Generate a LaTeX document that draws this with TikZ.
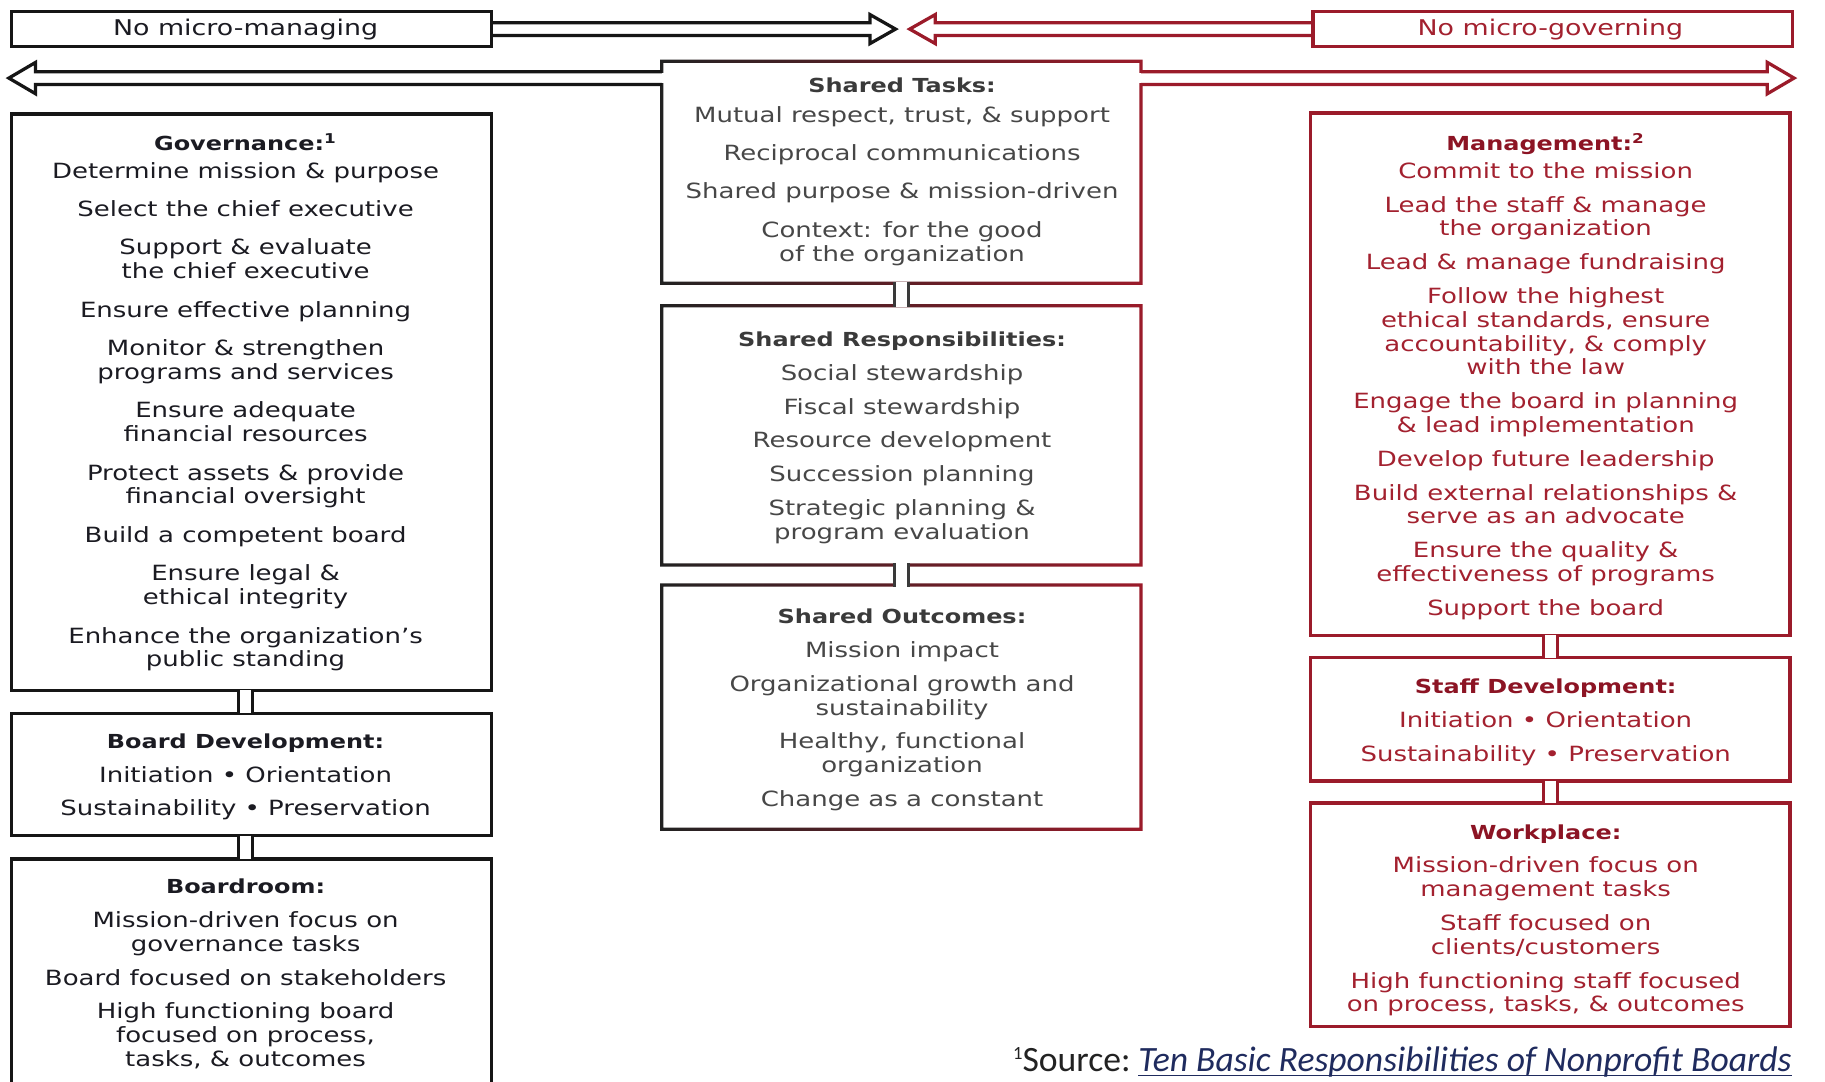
\documentclass[tikz,border=0pt]{standalone}
\usepackage{fontspec}
\setmainfont{DejaVu Sans}[FakeStretch=1.24]
\newfontfamily\notefont{Carlito}
\usetikzlibrary{fit,calc}
\definecolor{lc}{HTML}{1B1B22}
\definecolor{lb}{HTML}{161616}
\definecolor{cc}{HTML}{474747}
\definecolor{ct}{HTML}{3A3A3A}
\definecolor{rc}{HTML}{A3212F}
\definecolor{rt}{HTML}{8C1424}
\definecolor{rb}{HTML}{9B1B2A}
\definecolor{cl}{HTML}{222222}
\definecolor{linkc}{HTML}{1F2B5E}
\newcommand\bodyfont{\fontsize{9}{10.25}\selectfont}
\newcommand\notesize{\notefont\fontsize{15.3}{17}\selectfont}
\newcommand\ttl[1]{{\rule{0pt}{7pt}\fontsize{8.3}{10.25}\selectfont\bfseries #1}}
\newcommand\mkbox[4]{%
  \path (#3) coordinate (#1-a) (#4) coordinate (#1-b);
  \node[#2, fit=(#1-a)(#1-b), inner sep=0pt] (#1) {};}
\newcommand\gradframe[1]{%
  \shade[left color=cl, right color=rb, even odd rule]
   ([shift={(-0.7pt,0.7pt)}]#1.north west) rectangle ([shift={(0.7pt,-0.7pt)}]#1.south east)
   ([shift={(0.7pt,-0.7pt)}]#1.north west) rectangle ([shift={(-0.7pt,0.7pt)}]#1.south east);}
\tikzset{
  lbox/.style={draw=lb, line width=1.4pt},
  rbox/.style={draw=rb, line width=1.4pt},
  cbox/.style={},
  conn/.style={double=white, double distance=4.6pt, line width=1.4pt,
    shorten <=-0.7pt, shorten >=-0.7pt},
  arrowline/.style={line width=1.4pt, line join=miter},
  ltext/.style={align=center, font=\bodyfont, text=lc, anchor=north, inner sep=0pt},
  ctext/.style={align=center, font=\bodyfont, text=cc, anchor=north, inner sep=0pt},
  rtext/.style={align=center, font=\bodyfont, text=rc, anchor=north, inner sep=0pt},
  toplabel/.style={font=\fontsize{9.3}{10}\selectfont, anchor=base, inner sep=0pt}
}
\begin{document}
\begin{tikzpicture}[x=0.5pt,y=-0.5pt]
\useasboundingbox (0,0) rectangle (1568,929);
\clip (0,0) rectangle (1568,929);
\fill[white] (0,0) rectangle (1568,929);

% boxes
\mkbox{nmm}{lbox}{10,10}{422,40}
\mkbox{nmg}{rbox}{1128,10}{1540,40}
\mkbox{gov}{lbox}{10,98}{422,593}
\mkbox{bdev}{lbox}{10,613}{422,718}
\mkbox{brm}{lbox}{10,738}{422,960}
\mkbox{st}{cbox}{569,53}{980,243}
\mkbox{sr}{cbox}{569,263}{980,485}
\mkbox{so}{cbox}{569,503}{980,712}
\mkbox{mgt}{rbox}{1126,97}{1538,546}
\mkbox{sdev}{rbox}{1126,565}{1538,671}
\mkbox{wp}{rbox}{1126,690}{1538,882}
\gradframe{st}
\gradframe{sr}
\gradframe{so}

% connectors
\draw[conn, draw=lb] ([xshift=-2.5pt]gov.south) -- ([xshift=-2.5pt]bdev.north);
\draw[conn, draw=lb] ([xshift=-2.5pt]bdev.south) -- ([xshift=-2.5pt]brm.north);
\draw[conn, draw=ct] (st.south) -- (sr.north);
\draw[conn, draw=ct] (sr.south) -- (so.north);
\draw[conn, draw=rb] (mgt.south) -- (sdev.north);
\draw[conn, draw=rb] (sdev.south) -- (wp.north);

% arrows
\draw[arrowline, draw=lb] (nmm.east) ++(0,-5.5) -- ++(324,0) -- ++(0,-7) -- ++(22,12.5)
  -- ++(-22,12.5) -- ++(0,-7) -- ++(-324,0);
\draw[arrowline, draw=rb] (nmg.west) ++(0,-5.5) -- ++(-323,0) -- ++(0,-7) -- ++(-22,12.5)
  -- ++(22,12.5) -- ++(0,-7) -- ++(323,0);
\fill[white] ([shift={(-2,10.4)}]st.north west) rectangle ++(5,8.2);
\fill[white] ([shift={(-3,10.4)}]st.north east) rectangle ++(5,8.2);
\draw[arrowline, draw=lb] (st.north west) ++(0,9) -- ++(-538,0) -- ++(0,-8) -- ++(-23,13.5)
  -- ++(23,13.5) -- ++(0,-8) -- ++(538,0);
\draw[arrowline, draw=rb] (st.north east) ++(0,9) -- ++(538,0) -- ++(0,-8) -- ++(23,13.5)
  -- ++(-23,13.5) -- ++(0,-8) -- ++(-538,0);

% top labels
\node[toplabel, text=lc] (nmm-t) at (211,30.5) {No micro-managing};
\node[toplabel, text=rc] (nmg-t) at (1332,30.5) {No micro-governing};

% left texts
\node[ltext] (gov-t) at (211,114.5) {\ttl{Governance:\textsuperscript{1}}\\[1.75pt]
Determine mission \& purpose\\[6.25pt]
Select the chief executive\\[6.25pt]
Support \& evaluate\\the chief executive\\[6.25pt]
Ensure effective planning\\[6.25pt]
Monitor \& strengthen\\programs and services\\[6.25pt]
Ensure adequate\\financial resources\\[6.25pt]
Protect assets \& provide\\financial oversight\\[6.25pt]
Build a competent board\\[6.25pt]
Ensure legal \&\\ethical integrity\\[6.25pt]
Enhance the organization’s\\public standing};
\node[ltext] (bdev-t) at (211,628.5) {\ttl{Board Development:}\\[4.25pt]
Initiation • Orientation\\[4.25pt]
Sustainability • Preservation};
\node[ltext] (brm-t) at (211,753.5) {\ttl{Boardroom:}\\[4.25pt]
Mission-driven focus on\\governance tasks\\[4.25pt]
Board focused on stakeholders\\[4.25pt]
High functioning board\\focused on process,\\tasks, \& outcomes};

% center texts
\node[ctext] (st-t) at (775,65.5) {\ttl{\color{ct}Shared Tasks:}\\[2.25pt]
Mutual respect, trust, \& support\\[6.25pt]
Reciprocal communications\\[6.25pt]
Shared purpose \& mission-driven\\[6.25pt]
Context: for the good\\of the organization};
\node[ctext] (sr-t) at (775,283.5) {\ttl{\color{ct}Shared Responsibilities:}\\[4.25pt]
Social stewardship\\[4.25pt]
Fiscal stewardship\\[4.25pt]
Resource development\\[4.25pt]
Succession planning\\[4.25pt]
Strategic planning \&\\program evaluation};
\node[ctext] (so-t) at (775,521.5) {\ttl{\color{ct}Shared Outcomes:}\\[4.25pt]
Mission impact\\[4.25pt]
Organizational growth and\\sustainability\\[4.25pt]
Healthy, functional\\organization\\[4.25pt]
Change as a constant};

% right texts
\node[rtext] (mgt-t) at (1328,114.5) {\ttl{\color{rt}Management:\textsuperscript{2}}\\[1.75pt]
Commit to the mission\\[4.25pt]
Lead the staff \& manage\\the organization\\[4.25pt]
Lead \& manage fundraising\\[4.25pt]
Follow the highest\\ethical standards, ensure\\accountability, \& comply\\with the law\\[4.25pt]
Engage the board in planning\\\& lead implementation\\[4.25pt]
Develop future leadership\\[4.25pt]
Build external relationships \&\\serve as an advocate\\[4.25pt]
Ensure the quality \&\\effectiveness of programs\\[4.25pt]
Support the board};
\node[rtext] (sdev-t) at (1328,581.5) {\ttl{\color{rt}Staff Development:}\\[4.25pt]
Initiation • Orientation\\[4.25pt]
Sustainability • Preservation};
\node[rtext] (wp-t) at (1328,706.5) {\ttl{\color{rt}Workplace:}\\[4.25pt]
Mission-driven focus on\\management tasks\\[4.25pt]
Staff focused on\\clients/customers\\[4.25pt]
High functioning staff focused\\on process, tasks, \& outcomes};

% footnote
\node[anchor=base west, inner sep=0pt, font=\notesize, text=cl] (src) at (870,921)
  {\raisebox{0.75ex}{\fontsize{8}{8}\selectfont 1}Source:};
\node[anchor=base west, inner sep=0pt, font=\notesize\itshape, text=linkc] (link)
  at ([xshift=3pt]src.base east) {Ten Basic Responsibilities of Nonprofit Boards};
\draw[linkc, line width=0.7pt] ([yshift=-1.6pt]link.base west) -- ([yshift=-1.6pt]link.base east);
\end{tikzpicture}
\end{document}
